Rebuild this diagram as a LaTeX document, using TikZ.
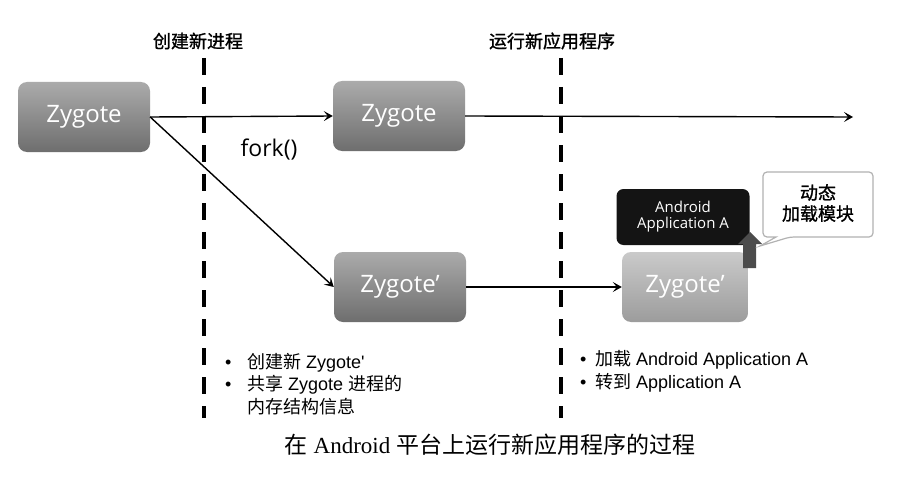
\documentclass[tikz,border=0pt]{standalone}
\usepackage{fontspec}
\setmainfont{Liberation Serif}
\newfontfamily\cjk{Noto Sans CJK SC}
\newfontfamily\cjkb[FakeBold=1.2]{Noto Sans CJK SC}
\newfontfamily\boxfont{Open Sans}
\newfontfamily\arial{Liberation Sans}
\usetikzlibrary{arrows.meta,shadings}
\definecolor{ztop}{HTML}{ABABAB}
\definecolor{zbot}{HTML}{6E6E6E}
\definecolor{zltop}{HTML}{CACACA}
\definecolor{zlbot}{HTML}{9C9C9C}
\begin{document}
\begin{tikzpicture}[x=1pt,y=-1pt,
  zbox/.style={rounded corners=9pt, minimum width=132pt, minimum height=70pt,
    top color=ztop, bottom color=zbot, draw=none,
    text=white, font=\boxfont\fontsize{24}{28}\selectfont, inner sep=0pt},
  zlight/.style={top color=zltop, bottom color=zlbot},
  appbox/.style={rounded corners=7pt, fill=black!92, minimum width=133pt, minimum height=56pt,
    text=white, align=center, font=\boxfont\fontsize{15}{18}\selectfont, inner sep=0pt},
  sep/.style={line width=3.8pt, dash pattern=on 17pt off 12pt},
  conn/.style={line width=1.4pt, -{Stealth[length=9pt,width=10pt,inset=4pt]}},
  head/.style={font=\cjkb\fontsize{18}{20}\selectfont},
  bul/.style={anchor=west, font=\arial\fontsize{18}{22}\selectfont, inner sep=0pt},
]
\useasboundingbox (0,0) rectangle (909,476);
\fill[white] (0,0) rectangle (909,476);

% separators
\coordinate (s1t) at (204,58); \coordinate (s1b) at (204,418);
\coordinate (s2t) at (561,58); \coordinate (s2b) at (561,418);
\draw[sep] (s1t) -- (s1b);
\draw[sep] (s2t) -- (s2b);
\node[head] (h1) at (198,41) {创建新进程};
\node[head] (h2) at (552,41) {运行新应用程序};

% boxes
\node[zbox] (z1) at (84,117) {Zygote};
\node[zbox] (z2) at (399,116) {Zygote};
\node[zbox] (z3) at (400,287) {Zygote’};
\node[zbox, zlight, minimum width=126pt] (z4) at (685,287) {Zygote’};
\node[appbox] (app) at (683,217) {Android\\[-2pt]Application A};

% connectors
\coordinate (zend) at (853,117);
\draw[conn] (z1.east) -- (z2.west);
\draw[conn] (z1.east) -- (z3.west);
\draw[conn] (z2.east) -- (zend);
\draw[conn] (z3.east) -- (z4.west);
\node[font=\boxfont\fontsize{23}{26}\selectfont] (fork) at (269,150) {fork()};

% block arrow up
\fill[black!70] (743,268) -- (743,244) -- (738,244) -- (750,232) -- (762,244) -- (756,244) -- (756,268) -- cycle;

% speech bubble
\draw[gray!60, line width=1.2pt, fill=white, rounded corners=4pt]
  (763,172) -- (873,172) -- (873,237) -- (790,237) [sharp corners] -- (760,246) -- (776,237) [rounded corners=4pt] -- (763,237) -- cycle;
\node[font=\cjkb\fontsize{18}{21}\selectfont, align=center] (bub) at (818,203) {动态\\加载模块};

% bullet texts
\node[bul] (b1a) at (225,363) {•\hspace{15.5pt}{\cjk 创建新} Zygote'};
\node[bul] (b1b) at (225,385) {•\hspace{15.5pt}{\cjk 共享} Zygote {\cjk 进程的}};
\node[bul, font=\cjk\fontsize{18}{22}\selectfont] (b1c) at (247,407) {内存结构信息};
\node[bul] (b2a) at (580,360) {•\hspace{8.5pt}{\cjk 加载} Android Application A};
\node[bul] (b2b) at (580,383) {•\hspace{8.5pt}{\cjk 转到} Application A};

% caption
\node[font=\fontsize{23}{26}\selectfont] (cap) at (490,445) {{\cjk 在} Android {\cjk 平台上运行新应用程序的过程}};
\end{tikzpicture}
\end{document}
